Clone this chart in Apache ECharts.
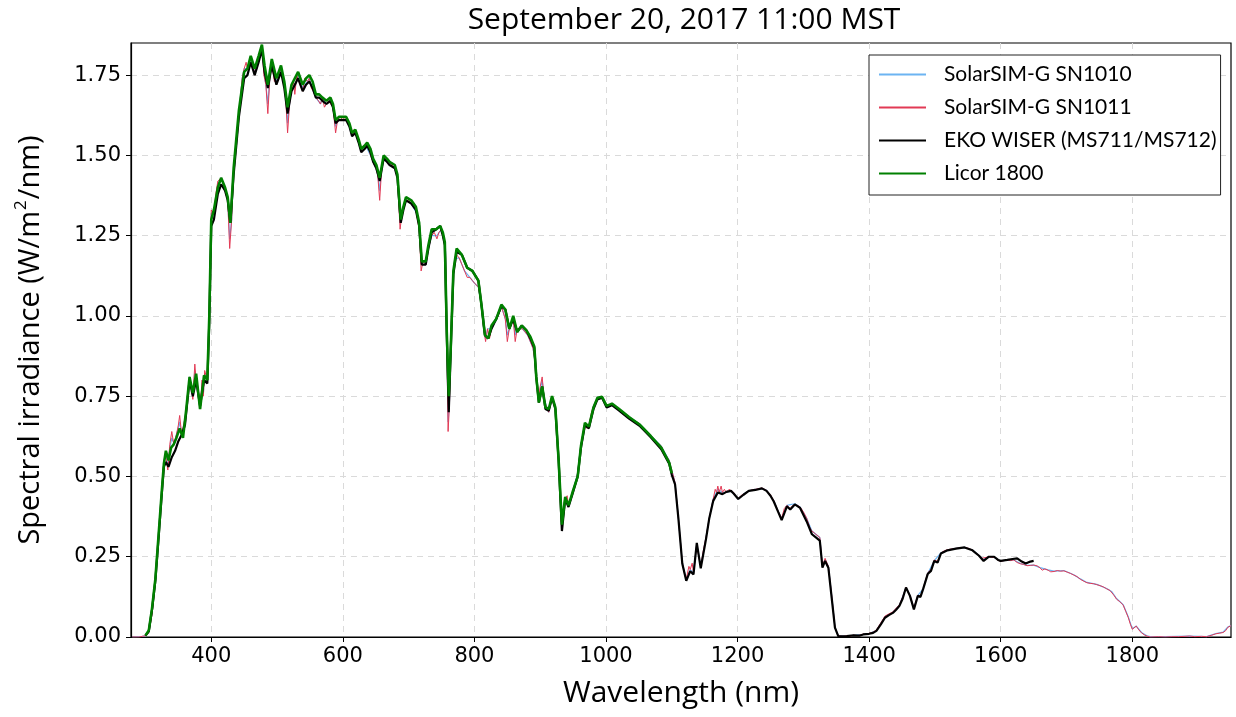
<!DOCTYPE html>
<html>
<head>
<meta charset="utf-8">
<script src="https://cdn.jsdelivr.net/npm/echarts@6/dist/echarts.min.js"></script>
<style>html,body{margin:0;padding:0;background:#fff}#c{width:1236px;height:717px}</style>
</head>
<body>
<div id="c"></div>
<script>
// ---------- DATA ----------
const xTicks = [400, 600, 800, 1000, 1200, 1400, 1600, 1800];
const yTicks = [0, 0.25, 0.5, 0.75, 1.0, 1.25, 1.5, 1.75];
const seriesNames = ['SolarSIM-G SN1010', 'SolarSIM-G SN1011', 'EKO WISER (MS711/MS712)', 'Licor 1800'];

// SolarSIM-G SN1010
const ss1010Nm = [280,295,300,305,310,315,320,325,328,331,334,337,340,344,347,350,352,355,358,362,367,372,375,377,383,386,388,390,394,397,400,404,410,415,421,425,428,431,434,442,447,450,455,460,466,472,477,480,483,486,489,492,499,506,512,516,519,522,527,532,539,546,549,555,559,566,569,575,581,585,589,592,600,607,614,620,628,635,642,650,653,656,659,662,670,679,683,687,690,696,704,712,716,719,722,726,730,735,743,750,753,756,758,760,762,764,767,770,777,785,793,801,806,810,814,817,820,826,834,841,847,850,853,859,862,865,873,881,889,892,895,898,903,906,913,918,923,928,932,935,938,943,949,957,962,968,974,981,987,994,1001,1009,1020,1035,1051,1068,1084,1096,1105,1110,1116,1122,1128,1133,1138,1144,1152,1157,1163,1170,1177,1183,1190,1201,1209,1217,1227,1237,1244,1255,1262,1267,1275,1287,1295,1305,1313,1325,1329,1333,1338,1343,1348,1353,1366,1376,1391,1400,1411,1424,1436,1446,1456,1462,1468,1474,1482,1489,1499,1509,1519,1532,1545,1557,1567,1574,1582,1590,1600,1610,1620,1630,1640,1650,1660,1672,1681,1696,1711,1721,1731,1746,1761,1769,1776,1786,1794,1800,1806,1814,1822,1827,1850,1887,1913,1927,1938,1945,1950];
const ss1010Val = [0,0.002,0.004,0.013,0.075,0.17,0.31,0.46,0.55,0.57,0.53,0.59,0.62,0.60,0.63,0.65,0.67,0.63,0.63,0.70,0.81,0.75,0.83,0.80,0.71,0.79,0.76,0.82,0.80,0.99,1.32,1.32,1.41,1.43,1.39,1.36,1.24,1.30,1.45,1.63,1.74,1.77,1.77,1.80,1.76,1.80,1.84,1.76,1.72,1.66,1.74,1.79,1.73,1.77,1.72,1.60,1.66,1.71,1.71,1.75,1.71,1.73,1.74,1.70,1.68,1.66,1.68,1.66,1.67,1.65,1.59,1.61,1.61,1.61,1.56,1.57,1.51,1.53,1.50,1.46,1.44,1.39,1.46,1.49,1.48,1.46,1.43,1.29,1.32,1.36,1.35,1.32,1.28,1.16,1.17,1.16,1.21,1.25,1.25,1.27,1.24,1.21,0.93,0.67,0.73,0.88,1.10,1.18,1.18,1.14,1.12,1.10,1.09,1.04,0.96,0.93,0.96,0.96,0.99,1.03,0.99,0.94,0.96,0.99,0.94,0.96,0.96,0.94,0.90,0.86,0.79,0.75,0.80,0.74,0.70,0.75,0.72,0.55,0.37,0.38,0.43,0.41,0.45,0.51,0.60,0.66,0.66,0.72,0.745,0.745,0.72,0.725,0.71,0.686,0.664,0.628,0.594,0.55,0.48,0.37,0.23,0.18,0.21,0.20,0.29,0.22,0.31,0.37,0.43,0.46,0.45,0.45,0.455,0.43,0.445,0.455,0.46,0.463,0.457,0.425,0.39,0.37,0.41,0.415,0.405,0.37,0.33,0.31,0.22,0.24,0.22,0.13,0.03,0.004,0.003,0.005,0.008,0.011,0.02,0.063,0.077,0.099,0.154,0.13,0.088,0.13,0.15,0.198,0.238,0.262,0.271,0.276,0.279,0.271,0.254,0.241,0.25,0.248,0.236,0.24,0.24,0.229,0.223,0.224,0.216,0.209,0.205,0.207,0.194,0.181,0.17,0.164,0.151,0.141,0.12,0.101,0.062,0.026,0.034,0.014,0.004,0.001,0.001,0.003,0.001,0.011,0.015,0.031,0.036];

// SolarSIM-G SN1011
const ss1011Nm = [280,290,295,300,305,310,315,320,325,328,331,334,337,340,343,347,350,352,355,358,362,367,370,372,375,377,380,383,386,388,390,394,397,400,404,407,410,415,421,425,428,431,434,438,442,447,450,453,455,458,460,463,466,469,472,475,477,480,483,486,489,492,496,499,502,506,509,512,516,519,522,525,527,530,532,535,539,542,546,549,552,555,559,563,566,569,572,575,578,581,585,589,592,596,600,603,607,610,614,617,620,624,628,631,635,639,642,646,650,653,656,659,662,666,670,675,679,683,687,690,693,696,700,704,708,712,716,719,722,726,730,735,739,743,746,750,753,756,758,760,762,764,767,770,773,777,781,785,789,793,797,801,806,810,814,817,820,823,826,830,834,838,841,844,847,850,853,856,859,862,865,869,873,877,881,885,889,892,895,898,900,903,906,909,913,918,923,928,932,935,938,941,943,946,949,953,957,962,968,971,974,978,981,987,994,1001,1005,1009,1015,1020,1027,1035,1043,1051,1060,1068,1076,1084,1090,1096,1100,1105,1110,1116,1120,1122,1126,1128,1131,1133,1138,1141,1144,1148,1152,1157,1160,1163,1166,1168,1170,1172,1175,1177,1180,1183,1187,1190,1194,1197,1201,1205,1209,1213,1217,1222,1227,1232,1237,1244,1250,1255,1262,1267,1271,1275,1280,1284,1287,1291,1295,1300,1305,1310,1313,1316,1319,1322,1325,1329,1333,1336,1338,1343,1348,1353,1360,1366,1372,1376,1382,1391,1396,1400,1406,1411,1418,1424,1430,1436,1441,1446,1451,1456,1462,1468,1474,1478,1482,1489,1494,1499,1504,1509,1514,1519,1525,1532,1538,1545,1551,1557,1562,1567,1571,1574,1578,1582,1586,1590,1595,1600,1605,1610,1615,1620,1625,1630,1635,1640,1645,1650,1655,1660,1663,1667,1672,1676,1681,1686,1691,1696,1701,1706,1711,1716,1721,1726,1731,1736,1741,1746,1751,1756,1761,1766,1769,1772,1776,1781,1786,1790,1794,1797,1800,1803,1806,1810,1814,1818,1822,1827,1840,1850,1860,1870,1880,1887,1895,1905,1913,1920,1927,1933,1938,1942,1945,1950];
const ss1011Val = [0,0,0.002,0.004,0.012,0.07,0.17,0.31,0.46,0.55,0.56,0.52,0.60,0.64,0.60,0.63,0.66,0.69,0.63,0.63,0.70,0.81,0.78,0.74,0.85,0.80,0.77,0.71,0.80,0.75,0.83,0.80,0.98,1.33,1.32,1.38,1.42,1.43,1.39,1.36,1.21,1.30,1.45,1.55,1.63,1.74,1.77,1.79,1.77,1.77,1.80,1.79,1.75,1.79,1.80,1.83,1.84,1.75,1.72,1.63,1.74,1.79,1.73,1.73,1.75,1.77,1.73,1.72,1.57,1.66,1.71,1.73,1.69,1.75,1.75,1.72,1.70,1.74,1.73,1.74,1.71,1.70,1.68,1.67,1.66,1.68,1.65,1.66,1.67,1.67,1.65,1.57,1.61,1.62,1.61,1.62,1.61,1.59,1.56,1.58,1.57,1.54,1.51,1.53,1.53,1.53,1.50,1.48,1.46,1.44,1.36,1.46,1.49,1.49,1.48,1.47,1.46,1.43,1.27,1.32,1.35,1.36,1.36,1.35,1.35,1.32,1.27,1.14,1.17,1.16,1.21,1.25,1.26,1.24,1.26,1.27,1.24,1.21,0.92,0.64,0.72,0.88,1.10,1.18,1.19,1.18,1.16,1.14,1.12,1.12,1.11,1.10,1.09,1.04,0.96,0.92,0.96,0.93,0.96,0.98,0.99,1.01,1.03,1.01,0.99,0.92,0.96,0.98,0.99,0.92,0.96,0.96,0.96,0.95,0.94,0.92,0.90,0.86,0.78,0.75,0.78,0.81,0.74,0.72,0.70,0.75,0.72,0.55,0.36,0.37,0.43,0.44,0.41,0.43,0.45,0.47,0.51,0.60,0.66,0.65,0.66,0.70,0.72,0.745,0.745,0.72,0.72,0.727,0.715,0.71,0.70,0.686,0.674,0.665,0.645,0.628,0.61,0.595,0.57,0.55,0.52,0.48,0.37,0.23,0.19,0.18,0.22,0.21,0.23,0.20,0.29,0.25,0.22,0.27,0.31,0.37,0.40,0.43,0.46,0.45,0.47,0.45,0.47,0.45,0.46,0.45,0.46,0.455,0.45,0.44,0.43,0.44,0.445,0.45,0.455,0.458,0.46,0.462,0.464,0.457,0.443,0.425,0.39,0.37,0.40,0.41,0.40,0.41,0.416,0.41,0.405,0.39,0.37,0.34,0.33,0.325,0.32,0.32,0.31,0.22,0.245,0.23,0.22,0.13,0.03,0.004,0.002,0.004,0.002,0.006,0.004,0.009,0.008,0.012,0.015,0.022,0.045,0.065,0.072,0.078,0.09,0.10,0.125,0.155,0.13,0.09,0.13,0.128,0.15,0.20,0.21,0.24,0.235,0.262,0.268,0.272,0.274,0.276,0.278,0.279,0.276,0.271,0.262,0.254,0.245,0.24,0.248,0.25,0.248,0.248,0.24,0.235,0.238,0.24,0.238,0.24,0.232,0.228,0.226,0.222,0.223,0.224,0.222,0.215,0.208,0.212,0.208,0.203,0.204,0.207,0.205,0.206,0.202,0.198,0.193,0.188,0.18,0.174,0.169,0.167,0.166,0.163,0.16,0.156,0.15,0.145,0.14,0.13,0.118,0.11,0.10,0.08,0.06,0.04,0.024,0.028,0.034,0.022,0.013,0.007,0.003,0,0.001,0,0.001,0.001,0.002,0.003,0.001,0.002,0.001,0.005,0.01,0.012,0.014,0.02,0.03,0.035];

// EKO WISER (MS711/MS712)
const ekoNm = [300,305,310,315,320,325,328,331,335,340,345,350,355,360,367,372,377,383,389,394,397,400,404,410,415,421,425,429,434,442,450,455,460,466,472,477,481,486,492,499,506,511,516,522,527,532,539,544,549,554,559,564,569,575,581,585,589,594,600,605,610,614,619,624,628,633,637,642,646,651,656,662,667,671,679,683,688,692,696,704,711,716,720,726,730,735,742,748,752,755,758,761,764,768,773,781,789,797,806,811,816,821,826,833,841,847,853,859,865,872,879,885,891,894,898,903,908,913,918,923,928,933,938,943,949,957,962,968,974,981,987,994,1001,1009,1020,1035,1051,1068,1084,1096,1100,1105,1110,1116,1122,1128,1133,1138,1144,1152,1157,1163,1170,1177,1183,1190,1194,1201,1209,1217,1227,1237,1244,1250,1255,1262,1267,1275,1280,1287,1295,1305,1313,1319,1325,1329,1333,1338,1343,1348,1353,1360,1366,1376,1385,1391,1400,1406,1411,1418,1424,1430,1436,1441,1446,1451,1456,1462,1468,1474,1478,1482,1489,1494,1499,1504,1509,1519,1532,1545,1557,1567,1574,1582,1590,1596,1600,1610,1618,1625,1632,1638,1645,1650];
const ekoVal = [0.004,0.018,0.085,0.175,0.31,0.45,0.53,0.545,0.53,0.56,0.58,0.61,0.63,0.66,0.80,0.75,0.80,0.72,0.80,0.79,0.98,1.28,1.30,1.38,1.41,1.39,1.36,1.29,1.44,1.62,1.74,1.75,1.79,1.75,1.79,1.83,1.76,1.71,1.78,1.72,1.76,1.71,1.63,1.70,1.72,1.74,1.70,1.72,1.73,1.71,1.68,1.68,1.67,1.66,1.67,1.65,1.60,1.61,1.61,1.61,1.59,1.56,1.57,1.54,1.51,1.52,1.53,1.51,1.48,1.46,1.42,1.49,1.48,1.47,1.46,1.43,1.29,1.33,1.36,1.35,1.33,1.28,1.16,1.16,1.21,1.26,1.27,1.28,1.25,1.22,0.94,0.70,0.89,1.13,1.20,1.19,1.15,1.14,1.11,1.03,0.94,0.93,0.96,0.99,1.03,1.02,0.96,0.99,0.95,0.97,0.955,0.93,0.90,0.81,0.73,0.78,0.71,0.705,0.745,0.71,0.55,0.33,0.43,0.405,0.445,0.50,0.59,0.66,0.65,0.71,0.74,0.745,0.715,0.722,0.705,0.68,0.658,0.622,0.585,0.54,0.505,0.475,0.37,0.228,0.175,0.205,0.195,0.293,0.214,0.305,0.37,0.424,0.45,0.445,0.452,0.455,0.447,0.43,0.443,0.455,0.458,0.463,0.455,0.44,0.422,0.388,0.364,0.407,0.397,0.413,0.402,0.36,0.32,0.31,0.30,0.216,0.237,0.216,0.123,0.029,0.003,0.002,0.003,0.005,0.004,0.008,0.01,0.013,0.019,0.04,0.06,0.068,0.075,0.085,0.097,0.12,0.154,0.128,0.086,0.128,0.125,0.149,0.196,0.206,0.237,0.232,0.26,0.27,0.275,0.279,0.27,0.253,0.237,0.25,0.25,0.24,0.237,0.24,0.243,0.245,0.235,0.229,0.235,0.237];

// Licor 1800
const licorNm = [300,305,310,315,320,325,328,331,335,339,343,347,352,357,362,367,372,377,383,389,394,397,400,404,410,415,421,425,429,434,442,450,455,460,466,472,477,481,486,492,499,506,511,516,522,527,532,539,544,549,554,559,564,569,575,581,585,589,594,600,605,610,614,619,624,628,633,637,642,646,651,656,662,667,671,679,683,688,692,696,704,711,716,720,726,730,735,742,748,752,755,758,761,764,768,773,781,789,797,806,811,816,821,826,833,841,847,853,859,865,872,879,885,891,894,898,903,908,913,918,923,928,933,938,943,949,957,962,968,974,981,987,994,1001,1009,1020,1035,1051,1068,1084,1096,1100];
const licorVal = [0.005,0.02,0.09,0.18,0.32,0.46,0.54,0.58,0.55,0.59,0.60,0.62,0.65,0.62,0.71,0.81,0.76,0.82,0.71,0.815,0.80,1.00,1.30,1.33,1.40,1.43,1.40,1.37,1.29,1.46,1.64,1.76,1.77,1.81,1.77,1.81,1.845,1.78,1.72,1.80,1.74,1.78,1.73,1.65,1.72,1.74,1.76,1.72,1.74,1.75,1.73,1.69,1.69,1.68,1.67,1.68,1.66,1.61,1.62,1.62,1.62,1.60,1.57,1.58,1.55,1.52,1.53,1.54,1.52,1.49,1.47,1.43,1.50,1.49,1.48,1.47,1.44,1.30,1.34,1.37,1.36,1.34,1.29,1.17,1.17,1.22,1.27,1.27,1.28,1.26,1.23,0.95,0.75,0.90,1.14,1.21,1.19,1.15,1.14,1.11,1.03,0.94,0.93,0.97,0.99,1.035,1.02,0.96,1.00,0.95,0.97,0.955,0.935,0.905,0.81,0.73,0.78,0.715,0.71,0.75,0.715,0.55,0.35,0.436,0.41,0.45,0.50,0.596,0.667,0.655,0.715,0.745,0.748,0.72,0.727,0.71,0.685,0.662,0.626,0.59,0.543,0.51];

// ---------- CHART ----------
function pairs(xs, ys) { return xs.map((x, i) => [x, ys[i]]); }
const chart = echarts.init(document.getElementById('c'), null, { renderer: 'canvas' });
const gridLine = { show: true, lineStyle: { color: '#dadada', type: [6, 5], width: 1 } };
const seriesStyles = [
  { color: '#6cb4f2', width: 1.2 },
  { color: '#e23a55', width: 1 },
  { color: '#000000', width: 2.2 },
  { color: '#008000', width: 2.6 }
];
const seriesData = [pairs(ss1010Nm, ss1010Val), pairs(ss1011Nm, ss1011Val), pairs(ekoNm, ekoVal), pairs(licorNm, licorVal)];
chart.setOption({
  animation: false,
  backgroundColor: '#fff',
  title: {
    text: 'September 20, 2017 11:00 MST',
    left: 679, top: 0, textAlign: 'center',
    textStyle: { fontFamily: 'Open Sans', fontSize: 30, fontWeight: 'normal', color: '#000' }
  },
  legend: {
    orient: 'vertical', left: 869, top: 55,
    data: seriesNames,
    itemWidth: 47, itemHeight: 20, itemGap: 12,
    padding: [9, 4, 11, 9],
    itemStyle: { opacity: 0 },
    backgroundColor: '#fff', borderColor: '#222', borderWidth: 1, borderRadius: 0,
    textStyle: { fontFamily: 'Lato', fontSize: 21, color: '#000', padding: [0, 0, 0, 13] }
  },
  grid: { left: 131, right: 5, top: 43, bottom: 80, show: true, borderColor: '#000', borderWidth: 1.2, backgroundColor: 'transparent' },
  xAxis: {
    type: 'value', min: 278, max: 1950,
    name: 'Wavelength (nm)', nameLocation: 'middle', nameGap: 41,
    nameTextStyle: { fontFamily: 'Open Sans', fontSize: 30, color: '#000' },
    axisLine: { show: true, onZero: false, lineStyle: { color: '#000', width: 1.2 } },
    axisTick: { show: true, length: 5, customValues: xTicks, lineStyle: { color: '#000' } },
    axisLabel: { customValues: xTicks, fontFamily: 'DejaVu Sans', fontSize: 21, color: '#000', margin: 9,
      formatter: v => String(v) },
    splitLine: gridLine
  },
  yAxis: {
    type: 'value', min: 0, max: 1.85,
    name: '{a|Spectral irradiance (W/m}{s|2}{a|/nm)}', nameLocation: 'middle', nameGap: 82,
    nameTextStyle: { fontFamily: 'Open Sans', fontSize: 29, color: '#000',
      rich: { a: { fontFamily: 'Open Sans', fontSize: 29, color: '#000', lineHeight: 36 },
              s: { fontFamily: 'Open Sans', fontSize: 17, color: '#000', lineHeight: 36, verticalAlign: 'top', padding: [0, 1, 0, 1] } } },
    axisLine: { show: true, lineStyle: { color: '#000', width: 1.2 } },
    axisTick: { show: true, length: 5, customValues: yTicks, lineStyle: { color: '#000' } },
    axisLabel: { customValues: yTicks, fontFamily: 'DejaVu Sans', fontSize: 21, color: '#000', margin: 10,
      formatter: v => v.toFixed(2) },
    splitLine: gridLine
  },
  series: seriesNames.map((n, i) => ({
    name: n, type: 'line', data: seriesData[i], showSymbol: false, symbol: 'none',
    lineStyle: seriesStyles[i], itemStyle: { color: seriesStyles[i].color },
    z: 2 + i, clip: true, emphasis: { disabled: true }
  }))
});
</script>
</body>
</html>
